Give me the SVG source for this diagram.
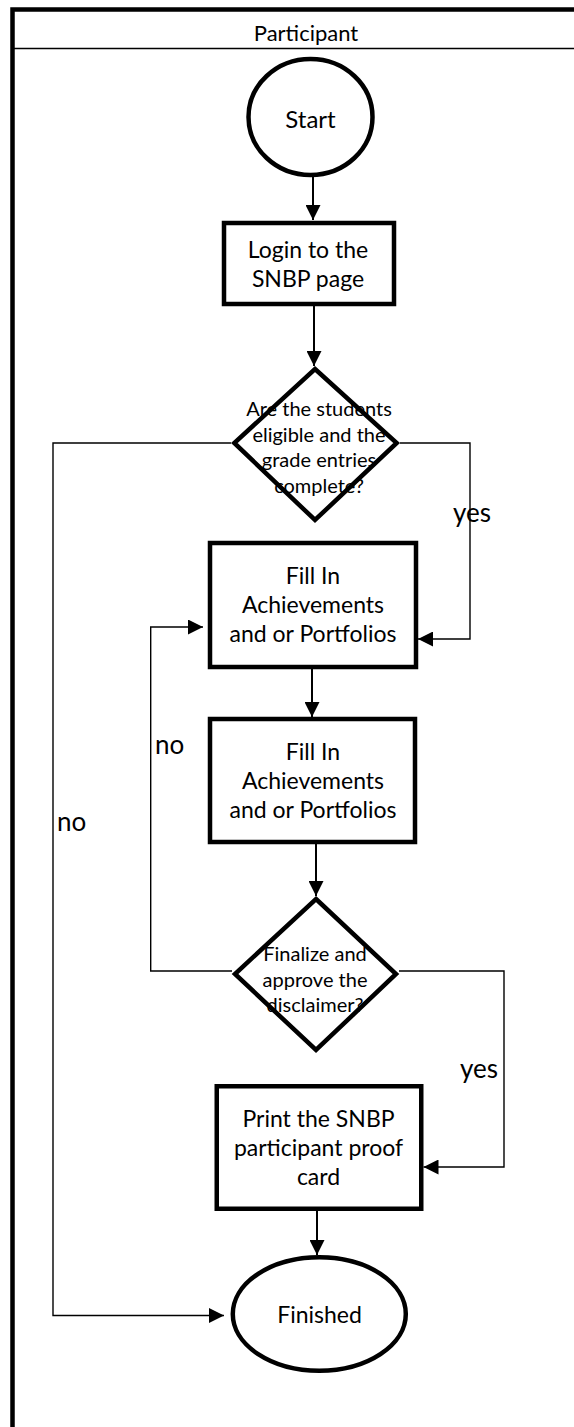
<svg xmlns="http://www.w3.org/2000/svg" width="574" height="1427" viewBox="0 0 574 1427">
<style>
text{font-family:Lato,"Open Sans","Liberation Sans",sans-serif;fill:#000;text-anchor:middle}
.shape{fill:#fff;stroke:#000;stroke-width:4.5;stroke-linejoin:miter}
.box text{font-size:23px}
.dia text{font-size:20px}
.lbl{font-size:26px;text-anchor:start}
.main{fill:none;stroke:#000;stroke-width:2;marker-end:url(#ah)}
.side{fill:none;stroke:#000;stroke-width:1.4;marker-end:url(#ah)}
</style>
<defs>
<marker id="ah" markerUnits="userSpaceOnUse" markerWidth="15" markerHeight="15" refX="15" refY="7.5" orient="auto">
<path d="M0,0 L15,7.5 L0,15 Z" fill="#000"/>
</marker>
</defs>
<rect width="574" height="1427" fill="#fff"/>
<g id="pool">
<rect x="12.5" y="9.5" width="575" height="1430" fill="none" stroke="#000" stroke-width="4.5"/>
<line x1="12.5" y1="48.5" x2="574" y2="48.5" stroke="#000" stroke-width="1.5"/>
<text x="306" y="41" style="font-size:22px">Participant</text>
</g>
<g id="connectors">
<path class="main" d="M313,177 V220"/>
<path class="main" d="M314,306 V366"/>
<path class="side" d="M400,443 H470 V639 H418"/>
<path class="side" d="M231,443 H53 V1315.5 H224"/>
<path class="main" d="M312,669 V717"/>
<path class="main" d="M316,844 V896"/>
<path class="side" d="M232,971 H150.7 V627 H203"/>
<path class="side" d="M399,971 H504 V1167 H423.5"/>
<path class="main" d="M317,1211 V1255"/>
<text class="lbl" x="453" y="522">yes</text>
<text class="lbl" x="155" y="754">no</text>
<text class="lbl" x="57" y="831">no</text>
<text class="lbl" x="460" y="1078">yes</text>
</g>
<g id="start" class="box">
<ellipse class="shape" cx="310.5" cy="117" rx="62" ry="58"/>
<text x="310.5" y="128" style="font-size:24px">Start</text>
</g>
<g id="login" class="box">
<rect class="shape" x="224" y="223" width="170" height="81"/>
<text x="308" y="258">Login to the</text>
<text x="308" y="287">SNBP page</text>
</g>
<g id="eligible" class="dia">
<polygon class="shape" points="315,369 396.7,443 315,520 234.3,443"/>
<text x="319" y="416">Are the students</text>
<text x="319" y="442">eligible and the</text>
<text x="319" y="467">grade entries</text>
<text x="319" y="493">complete?</text>
</g>
<g id="fill1" class="box">
<rect class="shape" x="210" y="543" width="206" height="124"/>
<text x="313" y="584">Fill In</text>
<text x="313" y="613">Achievements</text>
<text x="313" y="642">and or Portfolios</text>
</g>
<g id="fill2" class="box">
<rect class="shape" x="210" y="719" width="205" height="123"/>
<text x="313" y="760">Fill In</text>
<text x="313" y="789">Achievements</text>
<text x="313" y="818">and or Portfolios</text>
</g>
<g id="finalize" class="dia">
<polygon class="shape" points="316,899 396,974 316,1050 235,974"/>
<text x="315" y="961">Finalize and</text>
<text x="315" y="987">approve the</text>
<text x="315" y="1012">disclaimer?</text>
</g>
<g id="print" class="box">
<rect class="shape" x="216.75" y="1086.25" width="204.5" height="122.5"/>
<text x="318.5" y="1127">Print the SNBP</text>
<text x="318.5" y="1156">participant proof</text>
<text x="318.5" y="1185">card</text>
</g>
<g id="finished" class="box">
<ellipse class="shape" cx="319.3" cy="1314" rx="86.5" ry="56.75"/>
<text x="319.5" y="1323">Finished</text>
</g>
</svg>
